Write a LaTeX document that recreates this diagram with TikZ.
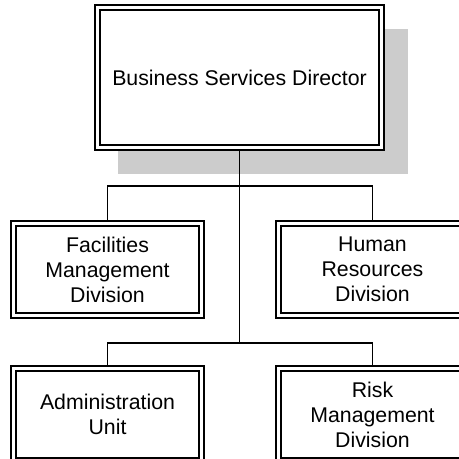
\documentclass[tikz,border=0pt]{standalone}
\usepackage{fontspec}
\setmainfont{Liberation Sans}
\usetikzlibrary{backgrounds}
\begin{document}
\begin{tikzpicture}[x=1pt,y=-1pt,
  unitbox/.style={draw,fill=white,line width=1.6pt,double=white,double distance=3.4pt,
    inner sep=0pt,outer sep=0pt,align=center,
    font=\fontsize{21.3}{25}\selectfont},
  link/.style={line width=1.6pt},
  shade/.style={fill=black!20,draw=none}]
\useasboundingbox (0,0) rectangle (459,459);
\clip (0,0) rectangle (459,459);
\node[unitbox,minimum width=284pt,minimum height=140pt] (bsd) at (239.5,77.5) {Business Services Director};
\node[unitbox,minimum width=188pt,minimum height=92pt] (fm) at (107.5,269.5) {Facilities\\Management\\Division};
\node[unitbox,minimum width=188pt,minimum height=92pt] (hr) at (372.5,269.5) {Human\\Resources\\Division};
\node[unitbox,minimum width=188pt,minimum height=92pt] (au) at (107.5,414.5) {Administration\\Unit};
\node[unitbox,minimum width=188pt,minimum height=92pt] (rm) at (372.5,414.5) {Risk\\Management\\Division};
\coordinate (j1) at (239.5,186);
\coordinate (j2) at (239.5,343);
\begin{pgfonlayer}{background}
\fill[shade] (118,29) rectangle (408,174);
\draw[link] (bsd.south) -- (j2);
\draw[link] (fm.north) |- (j1) -| (hr.north);
\draw[link] (au.north) |- (j2) -| (rm.north);
\end{pgfonlayer}
\end{tikzpicture}
\end{document}
